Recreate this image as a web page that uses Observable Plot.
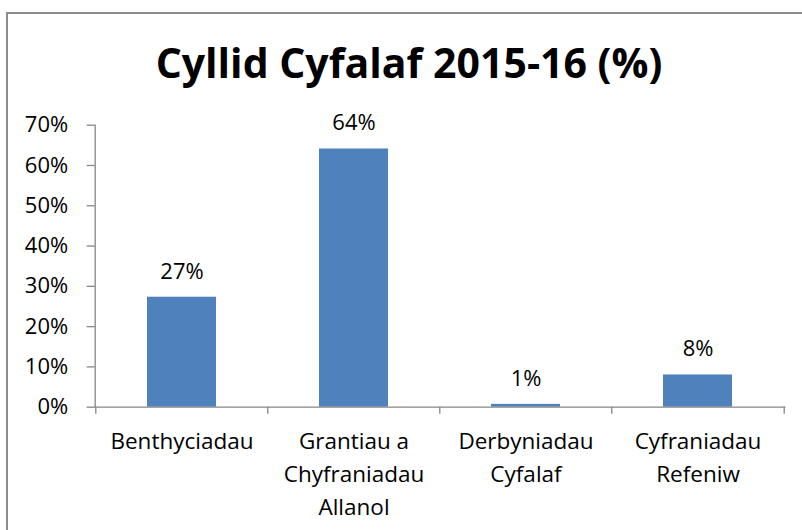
<!DOCTYPE html>
<html>
<head>
<meta charset="utf-8">
<script src="https://cdn.jsdelivr.net/npm/d3@7"></script>
<script src="https://cdn.jsdelivr.net/npm/@observablehq/plot@0.6"></script>
<style>
  html, body { margin: 0; padding: 0; background: #fff; }
  #wrap { position: relative; width: 802px; height: 530px; overflow: hidden; font-family: "Open Sans", sans-serif; }
  #border { position: absolute; left: 6px; top: 12px; width: 798px; height: 530px; border: 2px solid #8c8c8c; box-sizing: border-box; }
  #title { position: absolute; left: 8px; width: 802px; top: 42px; text-align: center; font-weight: bold; font-size: 41px; line-height: 41px; color: #000; }
  #chart { position: absolute; left: 0; top: 110px; }
</style>
</head>
<body>
<div id="wrap">
  <div id="border"></div>
  <div id="title">Cyllid Cyfalaf 2015-16 (%)</div>
  <div id="chart"></div>
</div>
<script>
const titleText = "Cyllid Cyfalaf 2015-16 (%)";
const categories = ["Benthyciadau", "Grantiau a\nChyfraniadau\nAllanol", "Derbyniadau\nCyfalaf", "Cyfraniadau\nRefeniw"];
const values = [27.3, 64.1, 0.7, 8.0];
const valueLabels = ["27%", "64%", "1%", "8%"];
const yTicks = [0, 10, 20, 30, 40, 50, 60, 70];

document.getElementById("title").textContent = titleText;

const data = categories.map((c, i) => ({cat: c, value: values[i], label: valueLabels[i]}));

const W = 802, H = 420;
const mL = 94.7, mR = 17.7, mT = 14.7, mB = 123.3;
const step = (W - mL - mR) / categories.length;
const axisGrey = "#868686";
const fs = 22.5;

const chart = Plot.plot({
  width: W,
  height: H,
  marginLeft: mL,
  marginRight: mR,
  marginTop: mT,
  marginBottom: mB,
  style: {fontFamily: "'Open Sans', sans-serif", fontSize: fs + "px", color: "#000", background: "transparent", overflow: "visible"},
  x: {domain: categories, type: "band", paddingInner: 0.6, paddingOuter: 0.3, align: 0.5},
  y: {domain: [0, 70], type: "linear"},
  marks: [
    Plot.barY(data, {x: "cat", y: "value", fill: "#4F81BD"}),
    Plot.frame({anchor: "left", stroke: axisGrey, strokeWidth: 1.3}),
    Plot.frame({anchor: "bottom", stroke: axisGrey, strokeWidth: 1.3}),
    Plot.tickX(categories, {x: d => d, dx: -step / 2, insetTop: H - mT - mB, insetBottom: -7, stroke: axisGrey, strokeWidth: 1.3}),
    Plot.tickX(categories.slice(-1), {x: d => d, dx: step / 2, insetTop: H - mT - mB, insetBottom: -7, stroke: axisGrey, strokeWidth: 1.3}),
    Plot.axisY({ticks: yTicks, tickFormat: d => d + "%", tickSize: 8, tickPadding: 19, fontSize: 22, stroke: axisGrey, fill: "#000", strokeWidth: 1.3, label: null}),
    Plot.axisX({tickSize: 0, tickPadding: 19, fontSize: fs, lineHeight: 1.45, fill: "#000", label: null}),
    Plot.text(data, {x: "cat", y: "value", text: "label", dy: -18.5, lineAnchor: "bottom", fontSize: 22, fill: "#000"})
  ]
});
document.getElementById("chart").appendChild(chart);
</script>
</body>
</html>
